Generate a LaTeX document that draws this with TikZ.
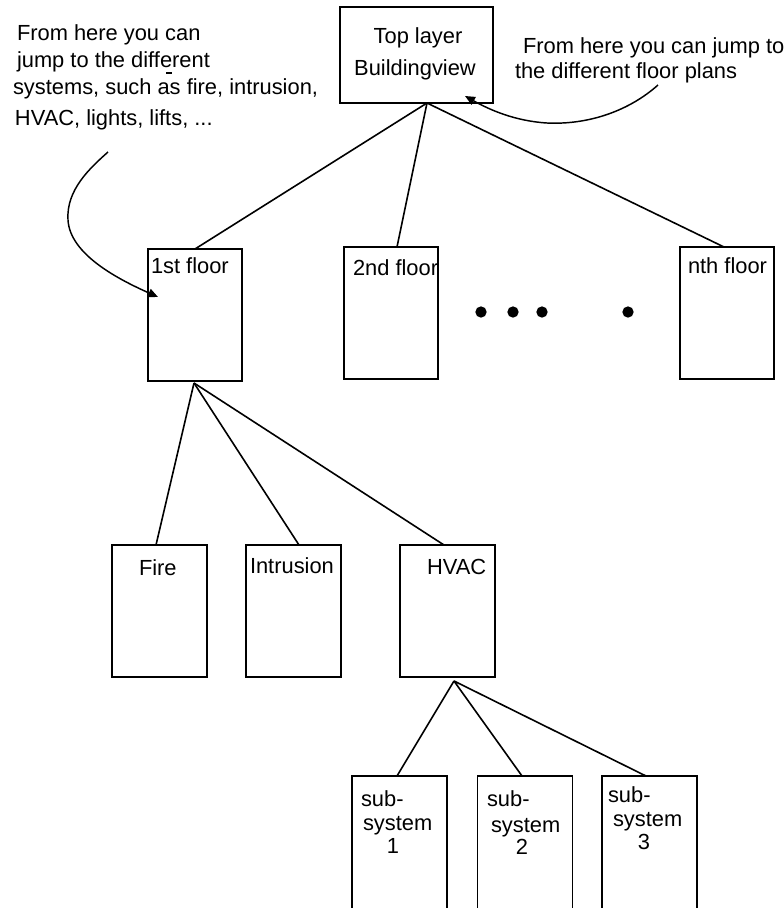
\documentclass[tikz,border=0pt]{standalone}
\usepackage{fontspec}
\setmainfont{Liberation Sans}
\usetikzlibrary{arrows.meta,calc}
\begin{document}
\begin{tikzpicture}[x=0.75pt,y=-0.75pt,
  box/.style={draw, line width=1.2pt, inner sep=0pt, outer sep=0pt},
  floorbox/.style={box, minimum width=70.5pt, minimum height=99pt},
  sysbox/.style={box, minimum width=71.25pt, minimum height=99pt},
  subbox/.style={box, minimum width=71.25pt, minimum height=138pt},
  txt/.style={anchor=base west, inner sep=0pt, outer sep=0pt, font=\fontsize{16.4}{19}\selectfont},
  txtc/.style={txt, anchor=base},
  link/.style={line width=1.2pt},
  pointer/.style={line width=1.1pt, -{Triangle[length=7.5pt,width=6.5pt]}},
  dot/.style={circle, fill, inner sep=0pt, minimum size=8.5pt}]
\path[use as bounding box] (0,0) rectangle (784,908);
\begin{scope}
\clip (0,0) rectangle (784,908);

% top layer
\node[box, minimum width=114.75pt, minimum height=72pt] (root) at (416.5,55) {};
\node[txtc] (rootA) at (418,43) {Top layer};
\node[txtc] (rootB) at (415,75) {Buildingview};

% floors
\node[floorbox] (f1) at (195,315) {};
\node[floorbox] (f2) at (391,313) {};
\node[floorbox] (fn) at (727,313) {};
\node[txt] (f1t) at (151,273) {1st floor};
\node[txt] (f2t) at (353,275) {2nd floor};
\node[txt] (fnt) at (688,273) {nth floor};

% ellipsis between the floors
\node[dot] (d1) at (481,312) {};
\node[dot] (d2) at (513,312) {};
\node[dot] (d3) at (542,312) {};
\node[dot] (d4) at (628,312) {};

% systems of the 1st floor
\node[sysbox] (fire) at (159.5,611) {};
\node[sysbox] (intr) at (293.5,611) {};
\node[sysbox] (hvac) at (447.5,611) {};
\node[txt] (firet) at (139,575) {Fire};
\node[txt] (intrt) at (250,573) {Intrusion};
\node[txt] (hvact) at (427,574) {HVAC};

% HVAC sub-systems (open towards the bottom edge)
\node[subbox] (s1) at (399.5,868) {};
\node[subbox] (s2) at (525,868) {};
\node[subbox] (s3) at (649.5,868) {};
\node[txt] (s1a) at (361,806) {sub-};
\node[txt] (s1b) at (363,830) {system};
\node[txtc] (s1c) at (393,853) {1};
\node[txt] (s2a) at (487,806) {sub-};
\node[txt] (s2b) at (491,832) {system};
\node[txtc] (s2c) at (522,854) {2};
\node[txt] (s3a) at (608,802) {sub-};
\node[txt] (s3b) at (613,826) {system};
\node[txtc] (s3c) at (644,849) {3};

% tree connectors
\draw[link] ($(root.south)+(10.5,0)$) -- (f1.north);
\draw[link] ($(root.south)+(10.5,0)$) -- ($(f2.north)+(6,0)$);
\draw[link] ($(root.south)+(10.5,0)$) -- ($(fn.north)+(-3,0)$);
\draw[link] ($(f1.south)+(-1,2)$) -- ($(fire.north)+(-3.5,0)$);
\draw[link] ($(f1.south)+(-1,2)$) -- ($(intr.north)+(5.5,0)$);
\draw[link] ($(f1.south)+(-1,2)$) -- ($(hvac.north)+(-3.5,0)$);
\draw[link] ($(hvac.south)+(6.5,4)$) -- ($(s1.north)+(-2.5,0)$);
\draw[link] ($(hvac.south)+(6.5,4)$) -- ($(s2.north)+(-3,0)$);
\draw[link] ($(hvac.south)+(6.5,4)$) -- ($(s3.north)+(-3.5,0)$);

% annotations
\node[txt] (la1) at (17,40) {From here you can};
\node[txt] (la2) at (17,67) {jump to the different};
\node[txt] (la3) at (13,94) {systems, such as fire, intrusion,};
\node[txt] (la4) at (15,125) {HVAC, lights, lifts, ...};
\draw[line width=1pt] (166,73) -- (172,73);

\node[txt] (ra1) at (523,53) {From here you can jump to};
\node[txt] (ra2) at (515,78) {the different floor plans};

\coordinate (lstart) at (108,152);
\coordinate (ltip) at (158,297);
\draw[pointer] (lstart) .. controls (90,168) and (66,190) .. (68,220)
  .. controls (70,255) and (120,280) .. (ltip);

\coordinate (rstart) at (658,85);
\coordinate (rtip) at (465,96);
\draw[pointer] (rstart) .. controls (630,110) and (590,125) .. (547,123)
  .. controls (515,121) and (490,110) .. (rtip);
\end{scope}
\end{tikzpicture}
\end{document}
